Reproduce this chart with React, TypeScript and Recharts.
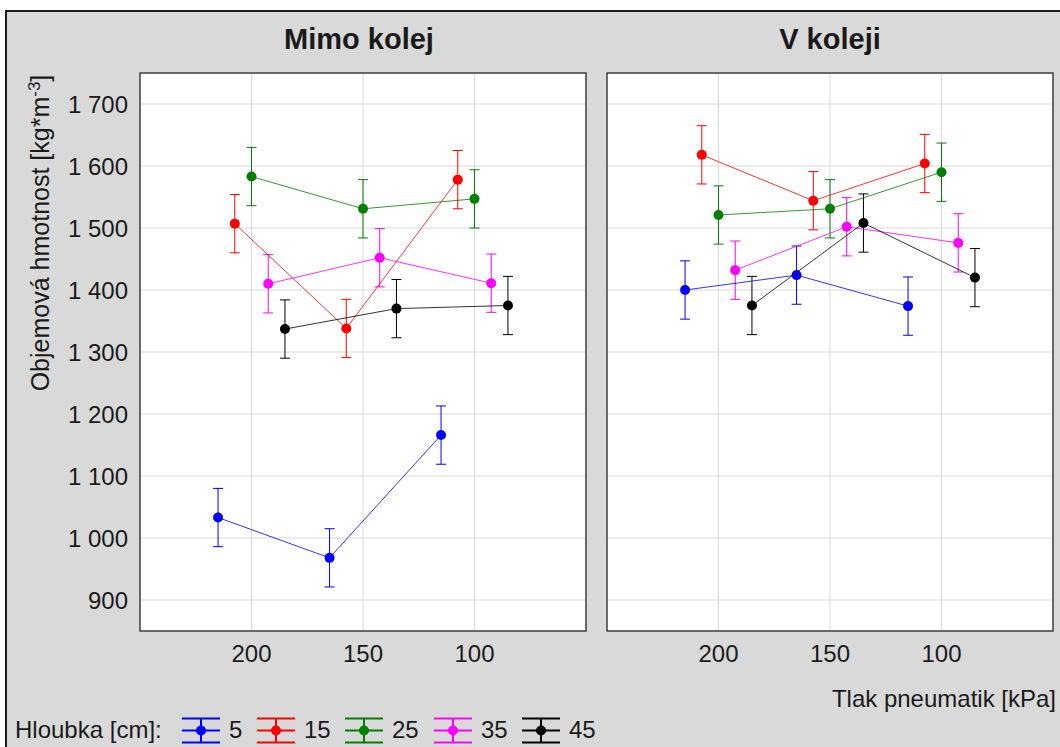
import React from 'react';
import { ScatterChart, Scatter, XAxis, YAxis, CartesianGrid, ErrorBar, ReferenceArea } from 'recharts';

// tyre pressure levels [kPa] and sampling depths [cm]
const pressures = [200, 150, 100];
const depths = [5, 15, 25, 35, 45];

// bulk density [kg*m-3], off the wheel track ("Mimo kolej")
const mimo5 = [1033, 968, 1166];
const mimo15 = [1507, 1338, 1578];
const mimo25 = [1583, 1531, 1547];
const mimo35 = [1410, 1452, 1411];
const mimo45 = [1337, 1370, 1375];

// bulk density [kg*m-3], in the wheel track ("V koleji")
const vKoleji5 = [1400, 1424, 1374];
const vKoleji15 = [1618, 1544, 1604];
const vKoleji25 = [1521, 1531, 1590];
const vKoleji35 = [1432, 1502, 1476];
const vKoleji45 = [1375, 1508, 1420];

// half-width of the confidence interval, same for every mean
const ciHalf = 47;

const xTicks = [200, 150, 100];
const yTicks = [900, 1000, 1100, 1200, 1300, 1400, 1500, 1600, 1700];
const minorTicks = [1, 2, 3, 4, 5, 6, 7, 8, 9];

const colors = ['#0000ff', '#ff0000', '#008000', '#ff00ff', '#000000'];
const DODGE = 7.5; // horizontal shift between depth series, kPa
const FONT = '"Liberation Sans", Arial, sans-serif';
const TEXT = '#1a1a1a';

const toPoints = (vals: number[], k: number) =>
  vals.map((v, i) => ({ x: pressures[i] + (2 - k) * DODGE, y: v, e: ciHalf }));

const fmtY = (v: number) =>
  v >= 1000 ? `${Math.floor(v / 1000)} ${String(v % 1000).padStart(3, '0')}` : String(v);

const Panel = ({ series, width, margin, showY }: any) => (
  <ScatterChart width={width} height={747} margin={margin}>
    <CartesianGrid stroke="#d9d9d9" fill="#ffffff" />
    <XAxis
      type="number"
      dataKey="x"
      domain={[50, 250]}
      reversed
      ticks={xTicks}
      interval={0}
      height={40}
      tickLine={false}
      axisLine={false}
      tickSize={6}
      tickMargin={8}
      tick={{ fontSize: 24, fill: TEXT }}
    />
    <YAxis
      type="number"
      dataKey="y"
      domain={[850, 1750]}
      ticks={yTicks}
      interval={0}
      hide={!showY}
      width={140}
      tickFormatter={fmtY}
      tickLine={false}
      axisLine={false}
      tickSize={6}
      tickMargin={6}
      tick={{ fontSize: 24, fill: TEXT }}
    />
    {/* secondary frame ticks on the right edge */}
    <YAxis
      yAxisId="minor"
      orientation="right"
      type="number"
      domain={[0, 10]}
      ticks={minorTicks}
      interval={0}
      width={0}
      mirror
      tick={() => <g />}
      tickSize={4}
      axisLine={false}
      tickLine={{ stroke: '#404040' }}
    />
    <ReferenceArea x1={250} x2={50} y1={850} y2={1750} fill="none" stroke="#404040" strokeWidth={1.5} />
    {series.map((vals: number[], k: number) => (
      <Scatter
        key={depths[k]}
        name={`${depths[k]}`}
        data={toPoints(vals, k)}
        fill={colors[k]}
        line={{ stroke: colors[k], strokeWidth: 1, strokeOpacity: 0.8 }}
        shape={(p: any) => <circle cx={p.cx} cy={p.cy} r={5} fill={colors[k]} />}
        isAnimationActive={false}
      >
        <ErrorBar dataKey="e" direction="y" width={5} stroke={colors[k]} strokeWidth={1} />
      </Scatter>
    ))}
  </ScatterChart>
);

const legendX = [201, 276, 364, 453, 541];

export default function App() {
  return (
    <div style={{ position: 'absolute', left: 0, top: 0, width: 1060, height: 747, background: '#fff', overflow: 'hidden', fontFamily: FONT }}>
      <div style={{ position: 'absolute', left: 5, top: 10, width: 1070, height: 760, background: '#d9d9d9', borderLeft: '2px solid #1a1a1a', borderTop: '2px solid #1a1a1a' }} />
      <div style={{ position: 'absolute', left: 0, top: 0 }}>
        <Panel
          series={[mimo5, mimo15, mimo25, mimo35, mimo45]}
          width={600}
          margin={{ top: 73, right: 14, bottom: 76, left: 0 }}
          showY
        />
      </div>
      <div style={{ position: 'absolute', left: 600, top: 0 }}>
        <Panel
          series={[vKoleji5, vKoleji15, vKoleji25, vKoleji35, vKoleji45]}
          width={460}
          margin={{ top: 73, right: 7, bottom: 76, left: 7 }}
          showY={false}
        />
      </div>
      <svg width={1060} height={747} style={{ position: 'absolute', left: 0, top: 0, pointerEvents: 'none' }} fontFamily={FONT}>
        <text x={359} y={49} textAnchor="middle" fontSize={29} fontWeight="bold" fill={TEXT}>Mimo kolej</text>
        <text x={830} y={49} textAnchor="middle" fontSize={29} fontWeight="bold" fill={TEXT}>V koleji</text>
        <text transform="translate(49,233) rotate(-90)" textAnchor="middle" fontSize={25} fill={TEXT}>
          Objemová hmotnost [kg*m<tspan dy={-9} fontSize={17}>-3</tspan><tspan dy={9}>]</tspan>
        </text>
        <text x={1056} y={707} textAnchor="end" fontSize={24} fill={TEXT}>Tlak pneumatik [kPa]</text>
        <text x={15} y={738} fontSize={24} fill={TEXT}>Hloubka [cm]:</text>
        {depths.map((d, k) => {
          const cx = legendX[k];
          const c = colors[k];
          return (
            <g key={d}>
              <line x1={cx - 19} x2={cx + 19} y1={718.5} y2={718.5} stroke={c} strokeWidth={2} />
              <line x1={cx - 19} x2={cx + 19} y1={742.5} y2={742.5} stroke={c} strokeWidth={2} />
              <line x1={cx - 19} x2={cx + 19} y1={730.5} y2={730.5} stroke={c} strokeWidth={2} />
              <line x1={cx} x2={cx} y1={718.5} y2={742.5} stroke={c} strokeWidth={2} />
              <circle cx={cx} cy={730.5} r={5} fill={c} />
              <text x={cx + 28} y={738} fontSize={24} fill={TEXT}>{d}</text>
            </g>
          );
        })}
      </svg>
    </div>
  );
}
